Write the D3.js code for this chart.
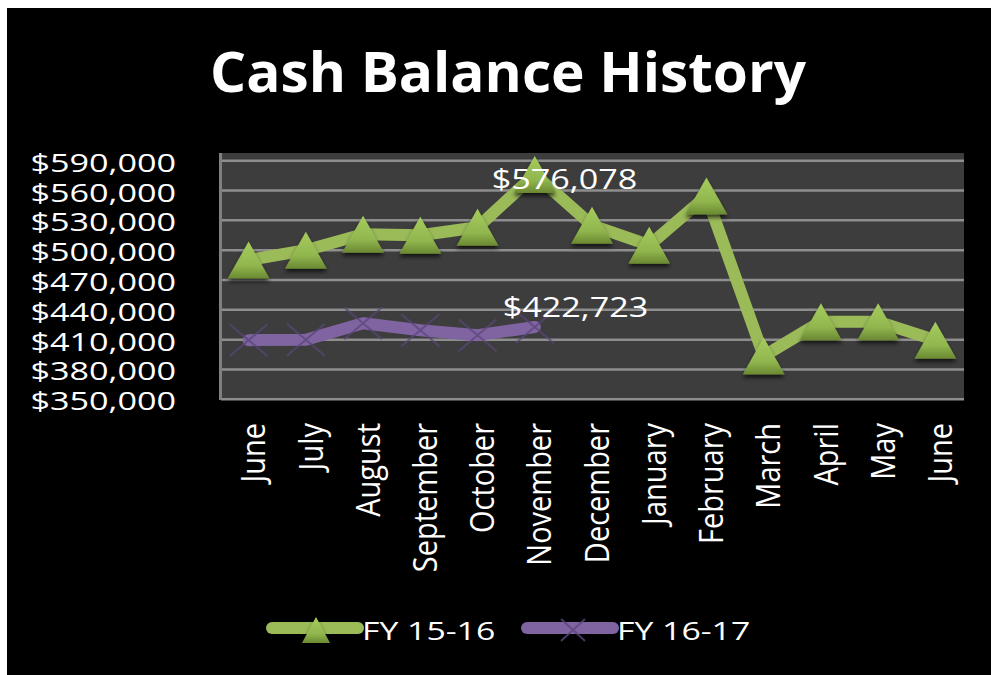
<!DOCTYPE html>
<html>
<head>
<meta charset="utf-8">
<script src="https://cdn.jsdelivr.net/npm/d3@7"></script>
<style>
  html, body { margin: 0; padding: 0; background: #fff; }
  text { font-family: "Open Sans", sans-serif; fill: #fff; }
</style>
</head>
<body>
<div id="chart"></div>
<script>
// data
const months = ["June", "July", "August", "September", "October", "November", "December",
  "January", "February", "March", "April", "May", "June"];
const fy1516 = [490000, 500000, 516000, 515000, 523000, 576078, 525000, 505000, 554500, 393500, 428000, 428000, 409500];
const fy1617 = [409500, 410000, 426500, 419500, 414500, 422723];
const yTicks = [350000, 380000, 410000, 440000, 470000, 500000, 530000, 560000, 590000];
const seriesNames = ["FY 15-16", "FY 16-17"];
const title = "Cash Balance History";

const W = 991, H = 675;
const plot = {left: 221, right: 964, top: 153, bottom: 400};

const svg = d3.select("#chart").append("svg")
  .attr("width", W)
  .attr("height", H);

const defs = svg.append("defs");
const grad = defs.append("linearGradient")
  .attr("id", "tri")
  .attr("x1", 0).attr("y1", 0).attr("x2", 0).attr("y2", 1);
grad.append("stop").attr("offset", "0%").attr("stop-color", "#a6cc5e");
grad.append("stop").attr("offset", "65%").attr("stop-color", "#91b64e");
grad.append("stop").attr("offset", "100%").attr("stop-color", "#6a8832");
const shadow = defs.append("filter").attr("id", "shadow")
  .attr("x", "-30%").attr("y", "-30%").attr("width", "160%").attr("height", "170%");
shadow.append("feDropShadow")
  .attr("dx", 0).attr("dy", 3).attr("stdDeviation", 2)
  .attr("flood-color", "#000").attr("flood-opacity", 0.7);

// black card
svg.append("rect")
  .attr("x", 7).attr("y", 8)
  .attr("width", W - 7).attr("height", H - 8)
  .attr("fill", "#000");

// title
const tg = svg.append("g").attr("transform", "translate(508,92)");
const tt = tg.append("text")
  .attr("text-anchor", "middle")
  .style("font-size", "56px")
  .style("font-weight", "bold")
  .text(title);
const tw = tt.node().getComputedTextLength();
tg.attr("transform", `translate(508,92) scale(${596 / tw},1)`);

// scales
const x = d3.scaleBand()
  .domain(d3.range(months.length))
  .range([plot.left - 1, plot.right]);
const cx = i => x(i) + x.bandwidth() / 2;

const y = d3.scaleLinear()
  .domain([350000, 590000])
  .range([399.3, 160.7]);

// plot background
svg.append("rect")
  .attr("x", plot.left).attr("y", plot.top)
  .attr("width", plot.right - plot.left).attr("height", plot.bottom - plot.top)
  .attr("fill", "#3d3d3d");

svg.append("g")
  .selectAll("line")
  .data(yTicks)
  .enter()
  .append("line")
  .attr("x1", plot.left).attr("x2", plot.right)
  .attr("y1", d => y(d)).attr("y2", d => y(d))
  .attr("stroke", "#8e8e8e")
  .attr("stroke-width", 2.5);

svg.append("line")
  .attr("x1", 220.5).attr("x2", 220.5)
  .attr("y1", plot.top).attr("y2", plot.bottom)
  .attr("stroke", "#808080")
  .attr("stroke-width", 3);

// y labels
const fmt = d => "$" + d3.format(",")(d);
svg.append("g")
  .selectAll("g")
  .data(yTicks)
  .enter()
  .append("g")
  .attr("transform", d => `translate(176,${y(d) + 11}) scale(1.34,1)`)
  .append("text")
  .attr("text-anchor", "end")
  .style("font-size", "25.5px")
  .text(fmt);

// x labels
svg.append("g")
  .selectAll("g")
  .data(months)
  .enter()
  .append("g")
  .attr("transform", (d, i) => `translate(${cx(i) + 5},423) scale(1.12,1) rotate(-90)`)
  .append("text")
  .attr("text-anchor", "end")
  .attr("dy", "0.36em")
  .style("font-size", "29px")
  .text(d => d);

// lines
const line = d3.line()
  .x((d, i) => cx(i))
  .y(d => y(d));

svg.append("path")
  .datum(fy1516)
  .attr("fill", "none")
  .attr("stroke", "#9bbb59")
  .attr("stroke-width", 12)
  .attr("stroke-linejoin", "round")
  .attr("stroke-linecap", "round")
  .attr("d", line);

svg.append("path")
  .datum(fy1617)
  .attr("fill", "none")
  .attr("stroke", "#8064a2")
  .attr("stroke-width", 12)
  .attr("stroke-linejoin", "round")
  .attr("stroke-linecap", "round")
  .attr("d", line);

// markers
function triangle(w, h) {
  return `M0,${-h / 2}L${w / 2},${h / 2}L${-w / 2},${h / 2}Z`;
}
function cross(w, h) {
  return `M${-w / 2},${-h / 2}L${w / 2},${h / 2}M${w / 2},${-h / 2}L${-w / 2},${h / 2}`;
}

svg.append("g")
  .selectAll("path")
  .data(fy1617)
  .enter()
  .append("path")
  .attr("transform", (d, i) => `translate(${cx(i)},${y(d)})`)
  .attr("d", cross(38, 32))
  .attr("fill", "none")
  .attr("stroke", "#5a4679")
  .attr("stroke-width", 2)
  .attr("opacity", 0.75);

svg.append("g")
  .selectAll("path")
  .data(fy1516)
  .enter()
  .append("path")
  .attr("transform", (d, i) => `translate(${cx(i)},${y(d)})`)
  .attr("d", triangle(42, 37))
  .attr("fill", "url(#tri)")
  .attr("filter", "url(#shadow)");

// data labels
const labels = [
  {series: fy1516, i: 5, dx: -43, dy: 14},
  {series: fy1617, i: 5, dx: -32, dy: -10}
];
svg.append("g")
  .selectAll("g")
  .data(labels)
  .enter()
  .append("g")
  .attr("transform", d => `translate(${cx(d.i) + d.dx},${y(d.series[d.i]) + d.dy}) scale(1.22,1)`)
  .append("text")
  .style("font-size", "28px")
  .text(d => fmt(d.series[d.i]));

// legend
const legend = svg.append("g").attr("transform", "translate(0,628)");
const legendItems = [
  {name: seriesNames[0], color: "#9bbb59", x0: 272, mark: "tri"},
  {name: seriesNames[1], color: "#8064a2", x0: 527, mark: "x"}
];
legendItems.forEach(item => {
  legend.append("line")
    .attr("x1", item.x0).attr("x2", item.x0 + 86)
    .attr("y1", 0).attr("y2", 0)
    .attr("stroke", item.color)
    .attr("stroke-width", 12)
    .attr("stroke-linecap", "round");
  if (item.mark === "tri") {
    legend.append("path")
      .attr("transform", `translate(${item.x0 + 44},2)`)
      .attr("d", triangle(28, 26))
      .attr("fill", "url(#tri)")
      .attr("filter", "url(#shadow)");
  } else {
    legend.append("path")
      .attr("transform", `translate(${item.x0 + 46},2)`)
      .attr("d", cross(24, 22))
      .attr("fill", "none")
      .attr("stroke", "#5a4679")
      .attr("stroke-width", 2)
      .attr("opacity", 0.8);
  }
  legend.append("g")
    .attr("transform", `translate(${item.x0 + 90},12) scale(1.3,1)`)
    .append("text")
    .style("font-size", "26px")
    .text(item.name);
});
</script>
</body>
</html>
